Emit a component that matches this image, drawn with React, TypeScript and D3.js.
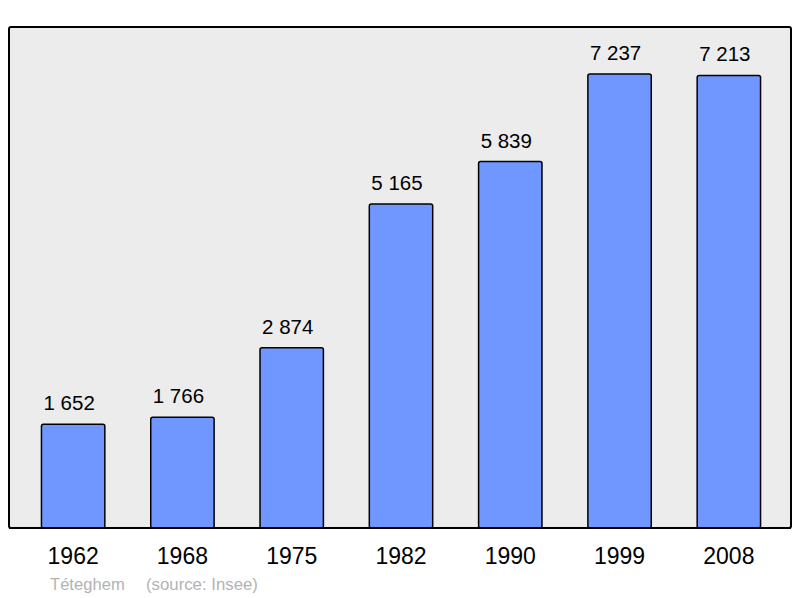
import React from "react";
import * as d3 from "d3";

// population by census year
const years = ["1962", "1968", "1975", "1982", "1990", "1999", "2008"];
const population = [1652, 1766, 2874, 5165, 5839, 7237, 7213];
const yMax = 8000;

const townName = "Téteghem";
const sourceNote = "(source: Insee)";

const width = 800;
const height = 598;
const panel = { x: 9, y: 27, w: 782, h: 501 };

const fmt = d3.formatLocale({ decimal: ",", thousands: " ", grouping: [3], currency: ["", " €"] }).format(",d");

export default function App() {
  const x = d3
    .scaleBand<string>()
    .domain(years)
    .range([18.5, 783.5])
    .paddingInner(0.42)
    .paddingOuter(0.21);

  const y = d3.scaleLinear().domain([0, yMax]).range([panel.y + panel.h, 26]);

  const font = "'Liberation Sans', Arial, sans-serif";

  return (
    <svg
      width={width}
      height={height}
      style={{ position: "absolute", left: 0, top: 0, display: "block", background: "#fff" }}
      fontFamily={font}
    >
      <rect
        x={panel.x}
        y={panel.y}
        width={panel.w}
        height={panel.h}
        rx={2}
        fill="#ececec"
        stroke="#000"
        strokeWidth={2}
      />
      {years.map((yr, i) => {
        const v = population[i];
        const bx = x(yr)!;
        const top = y(v);
        const cx = bx + x.bandwidth() / 2;
        return (
          <g key={yr}>
            <rect
              x={bx}
              y={top}
              width={x.bandwidth()}
              height={y(0) - top}
              rx={2}
              fill="#7096ff"
              stroke="#000"
              strokeWidth={1.5}
            />
            <text x={cx - 4} y={top - 14} textAnchor="middle" fontSize={20.5} fill="#000">
              {fmt(v)}
            </text>
            <text x={cx} y={563.5} textAnchor="middle" fontSize={23} fill="#000">
              {yr}
            </text>
          </g>
        );
      })}
      {/* redraw baseline over bar bottoms */}
      <line x1={panel.x} x2={panel.x + panel.w} y1={y(0)} y2={y(0)} stroke="#000" strokeWidth={2} />
      <text x={50} y={590} fontSize={16.6} fill="#b3b3b3">
        {townName}
      </text>
      <text x={146} y={590} fontSize={16.8} fill="#b3b3b3">
        {sourceNote}
      </text>
    </svg>
  );
}
